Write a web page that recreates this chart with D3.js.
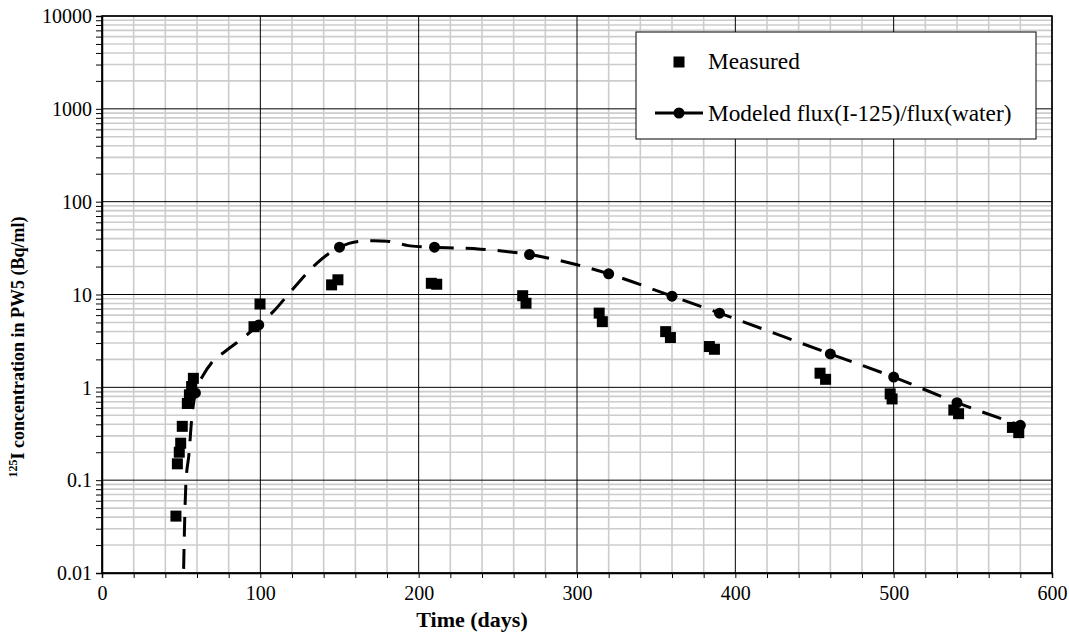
<!DOCTYPE html>
<html>
<head>
<meta charset="utf-8">
<script src="https://cdn.jsdelivr.net/npm/d3@7/dist/d3.min.js"></script>
<style>
body{margin:0;background:#fff;}
svg text{font-family:"Liberation Serif","Times New Roman",serif;}
</style>
</head>
<body>
<svg id="chart" width="1069" height="634"></svg>
<script>
// ---- data ----
const measuredDays = [46.7,47.6,48.8,49.7,50.7,53.9,55.2,56.6,57.7,96,99.8,145,149,208,211.4,265.7,267.8,314,316,356,359,383.6,386.8,453.5,457,497.8,499,538,541,575,579];
const measuredValues = [0.041,0.15,0.20,0.25,0.38,0.67,0.83,1.02,1.25,4.5,7.9,12.7,14.4,13.2,12.9,9.7,8.05,6.3,5.1,3.98,3.44,2.75,2.57,1.42,1.22,0.85,0.75,0.57,0.52,0.37,0.325];
const modelCurveDays = [51.2,51.8,53,55,56.6,59,64,69,77.7,84.6,99,108,121,135.6,150,162,171.5,180,194.5,210,239,270,300,320,360,390,460,500,540,580];
const modelCurveValues = [0.005,0.018,0.093,0.196,0.446,0.87,1.36,1.82,2.43,2.98,4.7,6.5,11.7,21.7,32.3,37.2,37.9,37.5,33.4,32.3,30.8,26.9,20.9,16.7,9.6,6.3,2.29,1.29,0.684,0.39];
const modelMarkerDays = [59,99,150,210,270,320,360,390,460,500,540,580];
const modelMarkerValues = [0.87,4.7,32.3,32.3,26.9,16.7,9.6,6.3,2.29,1.29,0.684,0.39];
const xTicks = [0,100,200,300,400,500,600];
const yTicks = [0.01,0.1,1,10,100,1000,10000];
const yTickLabels = ["0.01","0.1","1","10","100","1000","10000"];
const legendLabels = ["Measured","Modeled flux(I-125)/flux(water)"];

const svg = d3.select("#chart");
const L=102,R=1052,T=16,B=573;
const x = d3.scaleLinear().domain([0,600]).range([L,R]);
const y = d3.scaleLog().domain([0.01,10000]).range([B,T]);

// minor grid
const xMinor = d3.range(0,601,20).filter(d=>d%100!==0);
const yMinor = [];
for(let e=-2;e<4;e++){for(let m=2;m<=9;m++){yMinor.push(m*Math.pow(10,e));}}
const grid = svg.append("g");
grid.selectAll(".vx").data(xMinor).enter().append("line")
  .attr("x1",d=>x(d)).attr("x2",d=>x(d)).attr("y1",T).attr("y2",B)
  .attr("stroke","#cccccc").attr("stroke-width",1.6);
grid.selectAll(".hy").data(yMinor).enter().append("line")
  .attr("x1",L).attr("x2",R).attr("y1",d=>y(d)).attr("y2",d=>y(d))
  .attr("stroke","#cccccc").attr("stroke-width",1.6);
// major grid
grid.selectAll(".vX").data(xTicks).enter().append("line")
  .attr("x1",d=>x(d)).attr("x2",d=>x(d)).attr("y1",T).attr("y2",B)
  .attr("stroke","#000").attr("stroke-width",1);
grid.selectAll(".hY").data(yTicks).enter().append("line")
  .attr("x1",L).attr("x2",R).attr("y1",d=>y(d)).attr("y2",d=>y(d))
  .attr("stroke","#000").attr("stroke-width",1);

// axes
const xAxis = d3.axisBottom(x).tickValues(xTicks).tickSize(5).tickPadding(8).tickFormat(d3.format("d"));
const gx = svg.append("g").attr("transform",`translate(0,${B})`).call(xAxis);
gx.selectAll(".tick text").attr("font-size",20).attr("font-family","Liberation Serif");
const xAxisMinor = d3.axisBottom(x).tickValues(xMinor).tickSize(5).tickFormat("");
svg.append("g").attr("transform",`translate(0,${B})`).call(xAxisMinor).select(".domain").remove();

const yAxis = d3.axisLeft(y).tickValues(yTicks).tickSize(6).tickPadding(4).tickFormat((d,i)=>yTickLabels[i]);
const gy = svg.append("g").attr("transform",`translate(${L},0)`).call(yAxis);
gy.selectAll(".tick text").attr("font-size",20).attr("font-family","Liberation Serif").attr("dy","0.34em");
const yAxisMinor = d3.axisLeft(y).tickValues(yMinor).tickSize(6).tickFormat("");
svg.append("g").attr("transform",`translate(${L},0)`).call(yAxisMinor).select(".domain").remove();
svg.selectAll(".domain").attr("stroke-width",1.5);

// plot border
svg.append("rect").attr("x",L).attr("y",T).attr("width",R-L).attr("height",B-T)
  .attr("fill","none").attr("stroke","#000").attr("stroke-width",1.5);

// clip
svg.append("clipPath").attr("id","clip").append("rect").attr("x",L).attr("y",T).attr("width",R-L).attr("height",B-T);

// model line
const curve = modelCurveDays.map((d,i)=>[d,modelCurveValues[i]]);
const line = d3.line().x(d=>x(d[0])).y(d=>y(d[1])).curve(d3.curveMonotoneX);
svg.append("path").datum(curve).attr("d",line).attr("clip-path","url(#clip)")
  .attr("fill","none").attr("stroke","#000").attr("stroke-width",3).attr("stroke-dasharray","20,12");

// model markers
svg.append("g").selectAll("circle").data(modelMarkerDays.map((d,i)=>[d,modelMarkerValues[i]])).enter()
  .append("circle").attr("cx",d=>x(d[0])).attr("cy",d=>y(d[1])).attr("r",5.5).attr("fill","#000");

// measured
const sq=11;
svg.append("g").selectAll("rect").data(measuredDays.map((d,i)=>[d,measuredValues[i]])).enter()
  .append("rect").attr("x",d=>x(d[0])-sq/2).attr("y",d=>y(d[1])-sq/2).attr("width",sq).attr("height",sq).attr("fill","#000");

// legend
const lg = svg.append("g");
lg.append("rect").attr("x",636).attr("y",32).attr("width",400).attr("height",107)
  .attr("fill","#fff").attr("stroke","#000").attr("stroke-width",1);
lg.append("rect").attr("x",679-5.5).attr("y",62-5.5).attr("width",11).attr("height",11).attr("fill","#000");
lg.append("text").attr("x",708).attr("y",69).attr("font-size",23.3).text(legendLabels[0]);
lg.append("line").attr("x1",655).attr("x2",703).attr("y1",113).attr("y2",113).attr("stroke","#000").attr("stroke-width",3);
lg.append("circle").attr("cx",679).attr("cy",113).attr("r",5.5).attr("fill","#000");
lg.append("text").attr("x",708).attr("y",121).attr("font-size",23.3).text(legendLabels[1]);

// axis titles
svg.append("text").attr("x",472).attr("y",627).attr("text-anchor","middle")
  .attr("font-size",22).attr("font-weight","bold").text("Time (days)");
const yt = svg.append("text").attr("transform","translate(24,347) rotate(-90)").attr("text-anchor","middle")
  .attr("font-size",18).attr("font-weight","bold");
yt.append("tspan").attr("font-size",12).attr("dy","-7").text("125");
yt.append("tspan").attr("dy","7").text("I concentration in PW5 (Bq/ml)");
</script>
</body>
</html>
